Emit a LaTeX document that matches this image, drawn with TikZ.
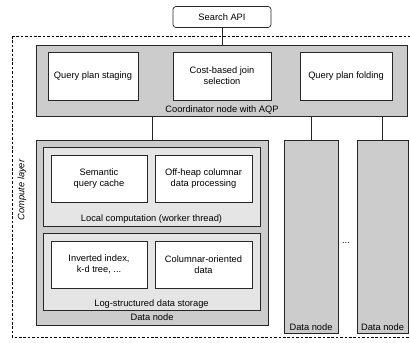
\documentclass[tikz,border=0pt]{standalone}
\usepackage{fontspec}
\setmainfont{Liberation Sans}
\begin{document}
\begin{tikzpicture}[x=1pt,y=-1pt,
  every node/.style={font=\fontsize{9.3}{10.8}\selectfont, inner sep=0pt, outer sep=0pt},
  ln/.style={line width=0.7pt, draw=black!85},
  whitebox/.style={ln, fill=white, align=center},
  darkbox/.style={ln, fill=gray!40},
  lightbox/.style={ln, fill=gray!20},
  lbl/.style={anchor=base},
]
\useasboundingbox (0,0) rectangle (410,343);
% compute layer
\draw[line width=0.7pt, dash pattern=on 2.6pt off 1.8pt] (12,36) -- (415,36) (12,36) -- (12,337) -- (415,337);
\node[rotate=90, font=\fontsize{9.3}{10.8}\selectfont\itshape] (cl) at (22,190) {Compute layer};
% search api
\node[ln, fill=white, rounded corners=3pt, minimum width=98pt, minimum height=21pt] (api) at (222,17) {Search API};
% coordinator
\node[darkbox, minimum width=371pt, minimum height=71pt] (coord) at (221.5,80.5) {};
\node[lbl] (coordl) at (222,112) {Coordinator node with AQP};
\node[whitebox, minimum width=90pt, minimum height=48pt] (qps) at (93,76) {Query plan staging};
\node[whitebox, minimum width=98pt, minimum height=48pt] (cbj) at (222,76) {Cost-based join\\selection};
\node[whitebox, minimum width=92pt, minimum height=48pt] (qpf) at (346,76) {Query plan folding};
% data nodes
\node[darkbox, minimum width=232pt, minimum height=185pt] (dn1) at (152,232.5) {};
\node[lbl] (dn1l) at (152,320) {Data node};
\node[lightbox, minimum width=217pt, minimum height=79pt] (lc) at (151.5,186.5) {};
\node[lbl] (lcl) at (151.5,221) {Local computation (worker thread)};
\node[whitebox, minimum width=96pt, minimum height=47pt] (sqc) at (99,178.5) {Semantic\\query cache};
\node[whitebox, minimum width=97pt, minimum height=47pt] (ohc) at (203.5,178.5) {Off-heap columnar\\data processing};
\node[lightbox, minimum width=217pt, minimum height=77pt] (ls) at (151.5,271.5) {};
\node[lbl] (lsl) at (151.5,306) {Log-structured data storage};
\node[whitebox, minimum width=96pt, minimum height=47pt] (iik) at (99,264.5) {Inverted index,\\k-d tree, ...};
\node[whitebox, minimum width=97pt, minimum height=47pt] (cod) at (203.5,264.5) {Columnar-oriented\\data};
\node[darkbox, minimum width=54pt, minimum height=193pt] (dn2) at (311,236.5) {};
\node[lbl] (dn2l) at (311,330) {Data node};
\node[darkbox, minimum width=51pt, minimum height=193pt] (dn3) at (382.5,236.5) {};
\node[lbl] (dn3l) at (382.5,330) {Data node};
\node (dots) at (346,243) {...};
% connectors
\draw[ln] (api) -- (coord.north -| api);
\draw[ln] (coord.south -| dn1) -- (dn1);
\draw[ln] (coord.south -| dn2) -- (dn2);
\draw[ln] (coord.south -| dn3) -- (dn3);
\end{tikzpicture}
\end{document}
